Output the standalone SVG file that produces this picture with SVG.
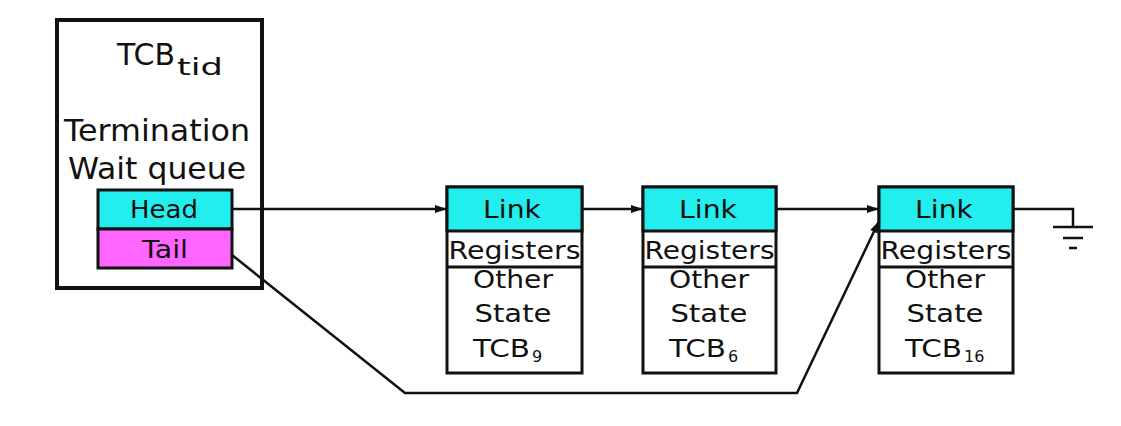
<svg xmlns="http://www.w3.org/2000/svg" width="1121" height="426" viewBox="0 0 1121 426">
  <style>
    .txt { font-family: "DejaVu Sans", "Liberation Sans", sans-serif; fill: #111; text-anchor: middle; }
    .lft { text-anchor: start; }
    .box { fill: #fff; stroke: #111; stroke-width: 3; }
    .cyan { fill: #22EEEE; stroke: #111; stroke-width: 3; }
    .pink { fill: #FF66FF; stroke: #111; stroke-width: 3; }
    .wire { fill: none; stroke: #111; stroke-width: 2.5; }
  </style>
  <defs>
    <marker id="arrow" markerUnits="userSpaceOnUse" markerWidth="13" markerHeight="10" refX="12" refY="5" orient="auto">
      <path d="M0,1 L12,5 L0,9 Z" fill="#111"/>
    </marker>
  </defs>
  <rect width="1121" height="426" fill="#fff"/>

  <!-- Thread control block holding the wait queue -->
  <g id="tcb-tid">
    <rect x="57" y="20" width="205" height="268" fill="#fff" stroke="#111" stroke-width="4"/>
    <text class="txt lft" x="117" y="65" font-size="30" textLength="58" lengthAdjust="spacingAndGlyphs">TCB</text>
    <text class="txt lft" x="177" y="75" font-size="23" textLength="46" lengthAdjust="spacingAndGlyphs">tid</text>
    <text class="txt" x="157" y="141" font-size="30" textLength="186" lengthAdjust="spacingAndGlyphs">Termination</text>
    <text class="txt" x="157" y="179" font-size="30" textLength="178" lengthAdjust="spacingAndGlyphs">Wait queue</text>
  </g>
  <g id="head">
    <rect class="cyan" x="98" y="190" width="134" height="39"/>
    <text class="txt" x="164" y="218" font-size="25" textLength="68" lengthAdjust="spacingAndGlyphs">Head</text>
  </g>
  <g id="tail">
    <rect class="pink" x="98" y="229" width="134" height="39"/>
    <text class="txt" x="165" y="258" font-size="25" textLength="46" lengthAdjust="spacingAndGlyphs">Tail</text>
  </g>

  <!-- Queued thread control blocks -->
  <g id="tcb-9">
    <rect class="box" x="447" y="187" width="135" height="186"/>
    <rect class="cyan" x="447" y="187" width="135" height="44"/>
    <line x1="447" y1="267" x2="582" y2="267" stroke="#111" stroke-width="3"/>
    <text class="txt" x="512" y="218" font-size="24" textLength="58" lengthAdjust="spacingAndGlyphs">Link</text>
    <text class="txt" x="514.5" y="259" font-size="25" textLength="132" lengthAdjust="spacingAndGlyphs">Registers</text>
    <text class="txt" x="513" y="288" font-size="25" textLength="80" lengthAdjust="spacingAndGlyphs">Other</text>
    <text class="txt" x="513" y="322" font-size="25" textLength="77" lengthAdjust="spacingAndGlyphs">State</text>
    <text class="txt lft" x="473" y="357" font-size="25" textLength="57" lengthAdjust="spacingAndGlyphs">TCB</text>
    <text class="txt lft" x="532" y="362" font-size="16">9</text>
  </g>
  <g id="tcb-6">
    <rect class="box" x="643" y="187" width="133" height="186"/>
    <rect class="cyan" x="643" y="187" width="133" height="44"/>
    <line x1="643" y1="267" x2="776" y2="267" stroke="#111" stroke-width="3"/>
    <text class="txt" x="708" y="218" font-size="24" textLength="58" lengthAdjust="spacingAndGlyphs">Link</text>
    <text class="txt" x="709.5" y="259" font-size="25" textLength="130" lengthAdjust="spacingAndGlyphs">Registers</text>
    <text class="txt" x="709" y="288" font-size="25" textLength="80" lengthAdjust="spacingAndGlyphs">Other</text>
    <text class="txt" x="709" y="322" font-size="25" textLength="77" lengthAdjust="spacingAndGlyphs">State</text>
    <text class="txt lft" x="669" y="357" font-size="25" textLength="57" lengthAdjust="spacingAndGlyphs">TCB</text>
    <text class="txt lft" x="728" y="362" font-size="16">6</text>
  </g>
  <g id="tcb-16">
    <rect class="box" x="879" y="187" width="134" height="186"/>
    <rect class="cyan" x="879" y="187" width="134" height="44"/>
    <line x1="879" y1="267" x2="1013" y2="267" stroke="#111" stroke-width="3"/>
    <text class="txt" x="944" y="218" font-size="24" textLength="58" lengthAdjust="spacingAndGlyphs">Link</text>
    <text class="txt" x="946" y="259" font-size="25" textLength="131" lengthAdjust="spacingAndGlyphs">Registers</text>
    <text class="txt" x="945" y="288" font-size="25" textLength="80" lengthAdjust="spacingAndGlyphs">Other</text>
    <text class="txt" x="945" y="322" font-size="25" textLength="77" lengthAdjust="spacingAndGlyphs">State</text>
    <text class="txt lft" x="905" y="357" font-size="25" textLength="57" lengthAdjust="spacingAndGlyphs">TCB</text>
    <text class="txt lft" x="964" y="362" font-size="16">16</text>
  </g>

  <!-- Links between the blocks -->
  <g id="connectors">
    <line class="wire" x1="232" y1="209" x2="447" y2="209" marker-end="url(#arrow)"/>
    <line class="wire" x1="582" y1="209" x2="643" y2="209" marker-end="url(#arrow)"/>
    <line class="wire" x1="776" y1="209" x2="879" y2="209" marker-end="url(#arrow)"/>
    <path class="wire" d="M232,255 L405,393 L797,393 L879,221" marker-end="url(#arrow)"/>
    <!-- null terminator -->
    <path class="wire" d="M1013,209 H1073 V227"/>
    <line class="wire" x1="1053" y1="227" x2="1093" y2="227"/>
    <line class="wire" x1="1063" y1="238" x2="1083" y2="238"/>
    <line class="wire" x1="1069" y1="248" x2="1077" y2="248"/>
  </g>
</svg>
